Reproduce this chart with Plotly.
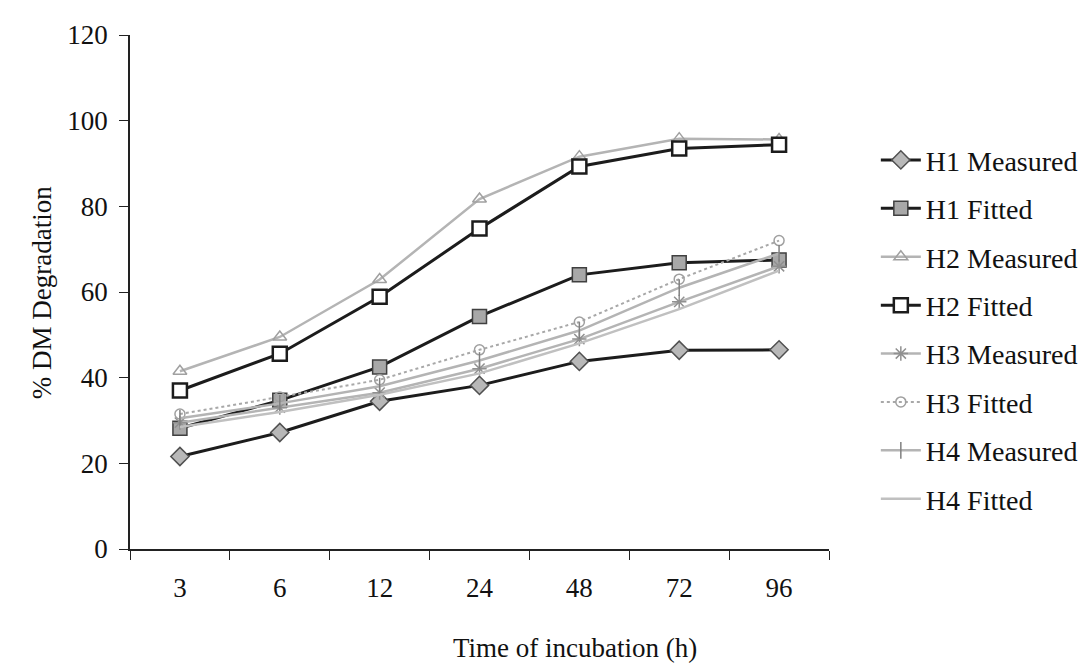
import plotly.graph_objects as go

hours = ["3", "6", "12", "24", "48", "72", "96"]

h1_measured = [21.6, 27.2, 34.5, 38.2, 43.8, 46.4, 46.5]
h1_fitted   = [28.2, 34.7, 42.5, 54.3, 64.0, 66.8, 67.5]
h2_measured = [41.5, 49.5, 62.9, 81.7, 91.6, 95.8, 95.6]
h2_fitted   = [37.0, 45.6, 58.9, 74.8, 89.3, 93.5, 94.4]
h3_measured = [29.5, 33.0, 36.5, 42.1, 49.0, 57.7, 66.0]
h3_fitted   = [31.5, 35.5, 39.5, 46.5, 53.0, 63.0, 72.0]
h4_measured = [30.5, 34.0, 38.0, 44.0, 51.0, 61.0, 69.0]
h4_fitted   = [28.5, 32.0, 36.0, 41.0, 48.0, 56.0, 65.0]

DARK = "#1c1c1c"
LIGHT = "#b4b4b4"
FONT = "Liberation Serif"

series = [
    ("H1 Measured", h1_measured, dict(color=DARK, width=3, dash="solid"),
     dict(symbol="diamond", size=14, color="#b8b8b8", line=dict(color="#505050", width=1.5))),
    ("H1 Fitted", h1_fitted, dict(color=DARK, width=3, dash="solid"),
     dict(symbol="square", size=14, color="#a8a8a8", line=dict(color="#404040", width=1.5))),
    ("H2 Measured", h2_measured, dict(color=LIGHT, width=2.5, dash="solid"),
     dict(symbol="triangle-up-open", size=12, color="#a0a0a0", line=dict(width=1.5))),
    ("H2 Fitted", h2_fitted, dict(color=DARK, width=3, dash="solid"),
     dict(symbol="square", size=14, color="white", line=dict(color=DARK, width=2.5))),
    ("H3 Measured", h3_measured, dict(color=LIGHT, width=2.5, dash="solid"),
     dict(symbol="asterisk-open", size=12, color="#909090", line=dict(width=1.5))),
    ("H3 Fitted", h3_fitted, dict(color="#a8a8a8", width=2, dash="dot"),
     dict(symbol="circle-open", size=10, color="#a0a0a0", line=dict(width=1.5))),
    ("H4 Measured", h4_measured, dict(color=LIGHT, width=2.5, dash="solid"),
     dict(symbol="line-ns-open", size=12, color="#808080", line=dict(width=1.5))),
    ("H4 Fitted", h4_fitted, dict(color="#c0c0c0", width=2.5, dash="solid"), None),
]

fig = go.Figure()
for i, (name, vals, line, marker) in enumerate(series):
    kw = dict(x=hours, y=vals, name=name, line=line, legendgroup=f"g{i}")
    if marker is None:
        kw["mode"] = "lines"
    else:
        kw["mode"] = "lines+markers"
        kw["marker"] = marker
    fig.add_trace(go.Scatter(**kw))

fig.update_layout(
    width=1087, height=669,
    margin=dict(l=122, r=264, t=27, b=128),
    paper_bgcolor="white", plot_bgcolor="white",
    font=dict(family=FONT, size=26, color="#111111"),
    showlegend=True,
    legend=dict(
        x=1.067, xanchor="left", y=0.805, yanchor="top",
        font=dict(family=FONT, size=28, color="#111111"),
        tracegroupgap=9, itemwidth=40,
        bgcolor="rgba(0,0,0,0)",
    ),
    xaxis=dict(
        type="category", categoryorder="array", categoryarray=hours,
        range=[-0.5, 6.5], showline=True, linecolor="#222", linewidth=1.5,
        ticks="outside", tickson="boundaries", ticklen=9, tickcolor="#222",
        showgrid=False, zeroline=False, ticklabelstandoff=14,
        tickfont=dict(family=FONT, size=27),
    ),
    yaxis=dict(
        range=[0, 120], tickmode="array", tickvals=[0, 20, 40, 60, 80, 100, 120],
        showline=True, linecolor="#222", linewidth=1.5,
        ticks="outside", ticklen=9, tickcolor="#222",
        showgrid=False, zeroline=False, ticklabelstandoff=6,
        tickfont=dict(family=FONT, size=27),
    ),
    annotations=[
        dict(text="Time of incubation (h)", xref="paper", yref="paper",
             x=(568 - 122) / 701, y=-(640 - 541) / 514, xanchor="center", yanchor="middle",
             showarrow=False, font=dict(family=FONT, size=27)),
        dict(text="% DM Degradation", xref="paper", yref="paper",
             x=-(122 - 34) / 701, y=(541 - 285) / 514, xanchor="center", yanchor="middle",
             textangle=-90, showarrow=False, font=dict(family=FONT, size=27)),
    ],
)

fig.write_html("out.html")
